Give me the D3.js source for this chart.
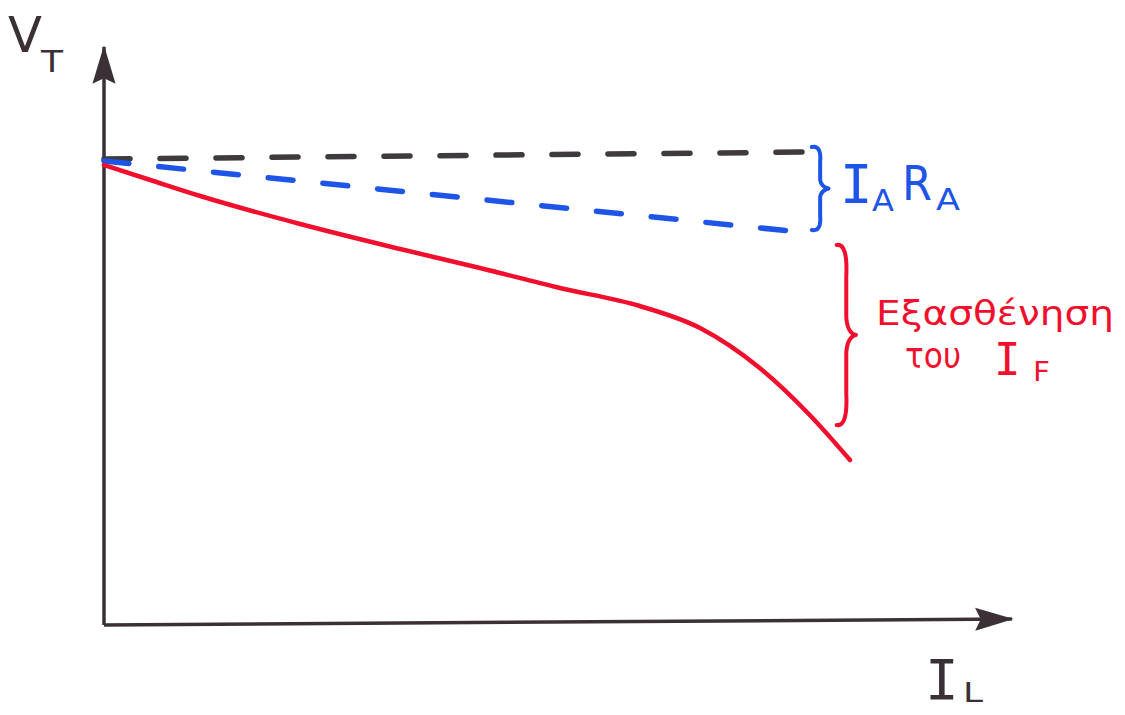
<!DOCTYPE html>
<html>
<head>
<meta charset="utf-8">
<script src="https://cdn.jsdelivr.net/npm/d3@7"></script>
<style>
  html, body { margin: 0; padding: 0; background: #ffffff; }
  svg { display: block; }
  text { font-family: "DejaVu Sans", sans-serif; }
  text.serifed { font-family: "DejaVu Sans Mono", "Liberation Mono", monospace; }
</style>
</head>
<body>
<svg id="chart" width="1125" height="715"></svg>
<script>
// Terminal voltage V_T versus load current I_L of a shunt DC generator
const loadCurrent     = [0, 0.62, 1.29, 2.63, 3.97, 5.04, 6.11, 7.18, 7.99, 8.79, 9.46, 10];
const terminalVoltage = [9.2, 8.9, 8.58, 8.02, 7.52, 7.14, 6.74, 6.38, 5.94, 5.14, 4.2, 3.3];

// No-load reference level (E_A) and the level after the I_A·R_A drop
const noLoadX = [0, 9.46];
const noLoadV = [9.32, 9.46];
const armatureDropX = [0, 9.2];
const armatureDropV = [9.28, 7.88];

// Axis extents (no ticks, only arrows)
const axisMaxX = 12.17;
const axisMaxY = 11.56;

const colors = { axis: "#3a3036", noLoad: "#3f3a3d", drop: "#1f55e6", curve: "#f0102e" };

const svg = d3.select("#chart");
const x = d3.scaleLinear().domain([0, 10]).range([104, 850]);
const y = d3.scaleLinear().domain([0, 10]).range([625, 125]);

// Arrowheads for the axes
const defs = svg.append("defs");
defs.append("marker")
  .attr("id", "arrow")
  .attr("viewBox", "0 0 11 7")
  .attr("refX", 10.5).attr("refY", 3.5)
  .attr("markerWidth", 11).attr("markerHeight", 7)
  .attr("markerUnits", "strokeWidth")
  .attr("orient", "auto")
  .append("path")
  .attr("d", "M0,0.2 L11,3.5 L0,6.8 L1.6,3.5 Z")
  .attr("fill", colors.axis);

// Axes
svg.append("line")
  .attr("x1", x(0)).attr("y1", y(0))
  .attr("x2", x(axisMaxX)).attr("y2", y(0.12))
  .attr("stroke", colors.axis).attr("stroke-width", 3.5)
  .attr("marker-end", "url(#arrow)");
svg.append("line")
  .attr("x1", x(0)).attr("y1", y(0))
  .attr("x2", x(0)).attr("y2", y(axisMaxY))
  .attr("stroke", colors.axis).attr("stroke-width", 3.5)
  .attr("marker-end", "url(#arrow)");

const line = d3.line().x(d => x(d[0])).y(d => y(d[1]));

// Dashed no-load level
svg.append("path")
  .datum(d3.zip(noLoadX, noLoadV))
  .attr("d", line)
  .attr("fill", "none")
  .attr("stroke", colors.noLoad).attr("stroke-width", 5.5)
  .attr("stroke-linecap", "round")
  .attr("stroke-dasharray", "26 30");

// Dashed armature-drop level
svg.append("path")
  .datum(d3.zip(armatureDropX, armatureDropV))
  .attr("d", line)
  .attr("fill", "none")
  .attr("stroke", colors.drop).attr("stroke-width", 5.5)
  .attr("stroke-linecap", "round")
  .attr("stroke-dasharray", "25 30");

// Terminal characteristic
svg.append("path")
  .datum(d3.zip(loadCurrent, terminalVoltage))
  .attr("d", d3.line().x(d => x(d[0])).y(d => y(d[1])).curve(d3.curveMonotoneX))
  .attr("fill", "none")
  .attr("stroke", colors.curve).attr("stroke-width", 4.5)
  .attr("stroke-linecap", "round")
  .attr("stroke-linejoin", "round");

// Curly brace "}" between two voltage levels at a given x
function brace(xv, vTop, vBottom, width, color) {
  const x0 = x(xv), yt = y(vTop), yb = y(vBottom);
  const ym = (yt + yb) / 2, w = width;
  const p = d3.path();
  p.moveTo(x0 - w * 0.6, yt);
  p.quadraticCurveTo(x0 + w * 0.1, yt - 2, x0, yt + (ym - yt) * 0.35);
  p.lineTo(x0, ym - (ym - yt) * 0.2);
  p.quadraticCurveTo(x0 + 1, ym - 2, x0 + w * 0.6, ym);
  p.quadraticCurveTo(x0 + 1, ym + 2, x0, ym + (yb - ym) * 0.2);
  p.lineTo(x0, yb - (yb - ym) * 0.35);
  p.quadraticCurveTo(x0 + w * 0.1, yb + 2, x0 - w * 0.6, yb);
  svg.append("path")
    .attr("d", p.toString())
    .attr("fill", "none")
    .attr("stroke", color).attr("stroke-width", 4)
    .attr("stroke-linecap", "round").attr("stroke-linejoin", "round");
}
brace(9.6, 9.56, 7.9, 14, colors.drop);
brace(9.95, 7.6, 4.0, 16, colors.curve);

// Labels
function label(txt, px, py, size, color, opts = {}) {
  const t = svg.append("text")
    .attr("x", px).attr("y", py)
    .attr("font-size", size)
    .attr("fill", color)
    .text(txt);
  if (opts.serifed) t.attr("class", "serifed");
  if (opts.len) t.attr("textLength", opts.len).attr("lengthAdjust", "spacingAndGlyphs");
  return t;
}

// V_T
label("V", 8, 52, 50, colors.axis, { len: 34 });
label("T", 41, 72, 30, colors.axis, { len: 22 });

// I_L
label("I", 925, 699, 56, colors.axis, { serifed: true });
label("L", 963, 702, 26, colors.axis, { len: 20 });

// I_A R_A
label("I", 840, 203, 54, colors.drop, { serifed: true });
label("A", 872, 211, 30, colors.drop, { len: 22 });
label("R", 902, 200, 48, colors.drop, { len: 30 });
label("A", 936, 210, 30, colors.drop, { len: 24 });

// Field-current weakening
label("Εξασθένηση", 876, 325, 34, colors.curve, { len: 238 });
label("του", 905, 368, 36, colors.curve, { len: 56 });
label("I", 994, 375, 44, colors.curve, { serifed: true });
label("F", 1033, 381, 27, colors.curve, { len: 17 });
</script>
</body>
</html>
